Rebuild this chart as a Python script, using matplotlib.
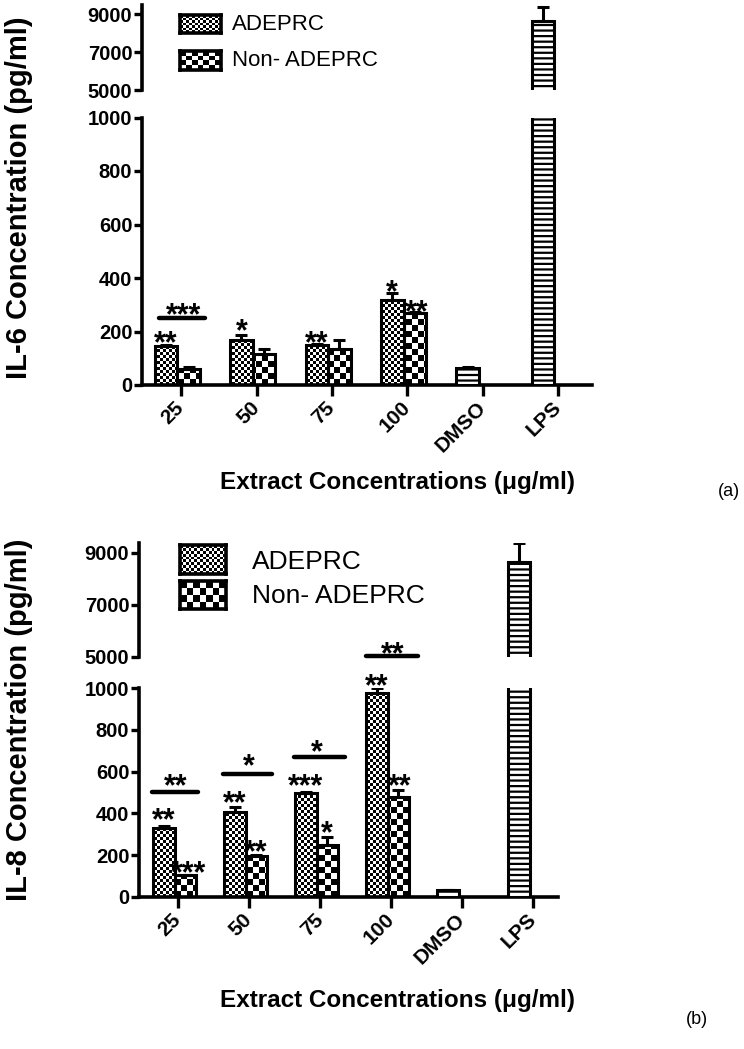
import numpy as np
import matplotlib.pyplot as plt
from matplotlib.path import Path

plt.rcParams['font.family'] = ['Liberation Sans', 'DejaVu Sans']
plt.rcParams['hatch.linewidth'] = 1.6

groups = ['25', '50', '75', '100', 'DMSO', 'LPS']
series = ['ADEPRC', 'Non- ADEPRC']

# (a) IL-6 (pg/ml)
il6_ad = [145, 170, 150, 318]
il6_ad_err = [6, 18, 5, 26]
il6_non = [60, 115, 135, 268]
il6_non_err = [8, 20, 33, 5]
il6_ctrl = [65, 8650]          # DMSO, LPS
il6_ctrl_err = [3, 720]

# (b) IL-8 (pg/ml)
il8_ad = [330, 408, 500, 978]
il8_ad_err = [12, 22, 4, 20]
il8_non = [103, 198, 250, 480]
il8_non_err = [4, 5, 38, 32]
il8_ctrl = [32, 8650]
il8_ctrl_err = [3, 720]

# significance marks (x, y, text) and bracket lines (x0, x1, y)
il6_stars = [(-0.20, 187, '**'), (0.03, 292, '***'), (0.80, 232, '*'),
             (1.80, 187, '**'), (2.80, 381, '*'), (3.12, 303, '**')]
il6_lines = [(-0.29, 0.32, 250)]
il8_stars = [(-0.20, 408, '**'), (0.15, 154, '***'), (-0.03, 571, '**'),
             (0.80, 489, '**'), (1.10, 254, '**'), (0.99, 667, '*'),
             (1.80, 571, '***'), (2.10, 345, '*'), (1.95, 734, '*'),
             (2.80, 1050, '**'), (3.12, 571, '**')]
il8_lines = [(-0.36, 0.28, 504), (0.63, 1.32, 590), (1.63, 2.35, 671)]
il8_top_stars = [(3.02, 5460, '**')]
il8_top_lines = [(2.64, 3.38, 5050)]

W, H = 744, 1049
fig = plt.figure(figsize=(W / 100, H / 100), dpi=100)

OFF_AD, OFF_NON, BW = -0.20, 0.10, 0.30
LW = 2.2


def px_rect(left, right, top, bottom):
    return [left / W, 1 - bottom / H, (right - left) / W, (bottom - top) / H]


def checker(ax, bars, cell):
    pos = ax.get_position()
    w, h = pos.width * W, pos.height * H
    x0, x1 = ax.get_xlim()
    y0, y1 = ax.get_ylim()
    nx, ny = int(w / cell) + 2, int(h / cell) + 2
    arr = np.add.outer(np.arange(ny), np.arange(nx)) % 2
    ext = (x0, x0 + nx * cell * (x1 - x0) / w, y0, y0 + ny * cell * (y1 - y0) / h)
    im = ax.imshow(arr, cmap='gray', extent=ext, origin='lower',
                   interpolation='nearest', aspect='auto', zorder=2)
    clip = Path.make_compound_path(*[b.get_path().transformed(b.get_patch_transform()) for b in bars])
    im.set_clip_path(clip, ax.transData)
    ax.set_xlim(x0, x1)
    ax.set_ylim(y0, y1)


def yaxis_style(ax, ylim, yticks):
    ax.set_ylim(*ylim)
    ax.set_yticks(yticks)
    ax.set_yticklabels([str(t) for t in yticks], fontweight='bold', fontsize=14.5)
    ax.spines['top'].set_visible(False)
    ax.spines['right'].set_visible(False)
    ax.spines['left'].set_linewidth(2.6)
    ax.spines['bottom'].set_linewidth(2.6)
    ax.tick_params(axis='y', length=6, width=2.4, pad=1)


def stars(ax, marks, fs=22):
    for xs, ys, t in marks:
        ax.annotate(t, (xs, ys), xytext=(0, -0.58 * fs), textcoords='offset points',
                    ha='center', va='baseline', fontsize=fs, fontweight='bold',
                    annotation_clip=False)


def lines(ax, segs):
    for x0, x1, y in segs:
        ax.plot([x0, x1], [y, y], color='black', lw=3.2, solid_capstyle='round', clip_on=False)


def panel(rect_lo, rect_hi, xlim, hi_top, ad, ad_err, non, non_err, ctrl, ctrl_err,
          st, ln, st_hi, ln_hi):
    x = np.arange(len(groups))
    lo = fig.add_axes(rect_lo)
    hi = fig.add_axes(rect_hi)
    for ax in (lo, hi):
        ax.set_xlim(*xlim)
        b1 = ax.bar(x[:4] + OFF_AD, ad, BW, facecolor='none', edgecolor='black', lw=LW, zorder=3)
        b2 = ax.bar(x[:4] + OFF_NON, non, BW, facecolor='none', edgecolor='black', lw=LW, zorder=3)
        ax.bar(x[4:] + OFF_AD, ctrl, BW, facecolor='white', edgecolor='black', hatch='---', lw=LW, zorder=3)
        ax.errorbar(x[:4] + OFF_AD, ad, yerr=[np.zeros(4), ad_err], fmt='none', ecolor='black',
                    elinewidth=LW, capsize=4, capthick=LW, zorder=2.5)
        ax.errorbar(x[:4] + OFF_NON, non, yerr=[np.zeros(4), non_err], fmt='none', ecolor='black',
                    elinewidth=LW, capsize=4, capthick=LW, zorder=2.5)
        ax.errorbar(x[4:] + OFF_AD, ctrl, yerr=[np.zeros(2), ctrl_err], fmt='none', ecolor='black',
                    elinewidth=LW, capsize=4, capthick=LW, zorder=2.5)
        if ax is lo:
            yaxis_style(ax, (0, 1000), [0, 200, 400, 600, 800, 1000])
        else:
            yaxis_style(ax, (5000, hi_top), [5000, 7000, 9000])
        checker(ax, b1, 3)
        checker(ax, b2, 6)
    hi.spines['bottom'].set_visible(False)
    hi.set_xticks([])
    lo.set_xticks(x)
    lo.set_xticklabels(groups, rotation=45, ha='right', va='center', rotation_mode='anchor',
                       fontweight='bold', fontsize=15)
    lo.tick_params(axis='x', length=8, width=2.4, pad=6)
    stars(lo, st)
    lines(lo, ln)
    stars(hi, st_hi)
    lines(hi, ln_hi)


def legend_box(rect, cell):
    a = fig.add_axes(rect)
    pos = a.get_position()
    nx, ny = int(pos.width * W / cell) + 1, int(pos.height * H / cell) + 1
    a.imshow(np.add.outer(np.arange(ny), np.arange(nx)) % 2, cmap='gray',
             interpolation='nearest', aspect='auto')
    a.set_xticks([])
    a.set_yticks([])
    for s in a.spines.values():
        s.set_linewidth(2.6)


# panel (a)
panel(px_rect(142, 592, 117.5, 385), px_rect(142, 592, 4.5, 90), (-0.52, 5.45), 9500,
      il6_ad, il6_ad_err, il6_non, il6_non_err, il6_ctrl, il6_ctrl_err,
      il6_stars, il6_lines, [], [])
legend_box(px_rect(180, 221, 15, 33), 3)
legend_box(px_rect(180, 221, 51, 70), 6)
fig.text(232 / W, 1 - 24 / H, series[0], va='center', fontsize=16)
fig.text(232 / W, 1 - 61 / H, series[1], va='center', fontsize=16)
fig.text(0.025, 1 - 198 / H, 'IL-6 Concentration (pg/ml)', rotation=90, ha='center', va='center',
         fontsize=21, fontweight='bold')
fig.text(397 / W, 1 - 482 / H, 'Extract Concentrations (\u03bcg/ml)', ha='center', va='center',
         fontsize=17.5, fontweight='bold')
fig.text(0.995, 1 - 492 / H, '(a)', ha='right', va='center', fontsize=13)

# panel (b)
panel(px_rect(139, 558, 688, 897), px_rect(139, 558, 542.6, 657), (-0.55, 5.35), 9400,
      il8_ad, il8_ad_err, il8_non, il8_non_err, il8_ctrl, il8_ctrl_err,
      il8_stars, il8_lines, il8_top_stars, il8_top_lines)
legend_box(px_rect(180, 226, 545, 574), 3)
legend_box(px_rect(180, 226, 581, 609), 7)
fig.text(252 / W, 1 - 562 / H, series[0], va='center', fontsize=19)
fig.text(252 / W, 1 - 596 / H, series[1], va='center', fontsize=19)
fig.text(0.025, 1 - 720 / H, 'IL-8 Concentration (pg/ml)', rotation=90, ha='center', va='center',
         fontsize=21, fontweight='bold')
fig.text(397 / W, 1 - 1000 / H, 'Extract Concentrations (\u03bcg/ml)', ha='center', va='center',
         fontsize=17.5, fontweight='bold')
fig.text(697 / W, 1 - 1020 / H, '(b)', ha='center', va='center', fontsize=13)

fig.savefig('out.png', dpi=100)
